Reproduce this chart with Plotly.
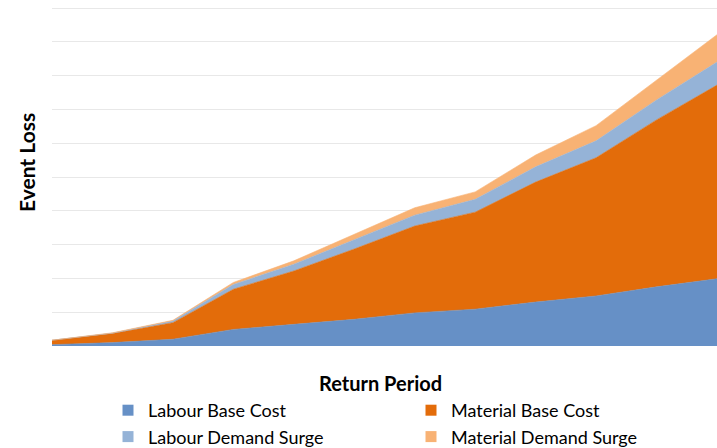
import plotly.graph_objects as go

return_periods = ["RP1", "RP2", "RP3", "RP4", "RP5", "RP6", "RP7", "RP8", "RP9", "RP10", "RP11", "RP12"]
labour_base = [0.04, 0.10, 0.20, 0.49, 0.64, 0.79, 0.98, 1.09, 1.30, 1.48, 1.75, 1.99]
material_base = [0.13, 0.27, 0.49, 1.19, 1.58, 2.08, 2.57, 2.87, 3.55, 4.09, 4.94, 5.73]
labour_surge = [0.00, 0.01, 0.05, 0.14, 0.20, 0.28, 0.32, 0.38, 0.45, 0.50, 0.59, 0.68]
material_surge = [0.00, 0.01, 0.02, 0.06, 0.10, 0.15, 0.22, 0.22, 0.35, 0.45, 0.59, 0.81]

series = [
    ("Labour Base Cost", labour_base, "#6690C6", "legend"),
    ("Material Base Cost", material_base, "#E36C0A", "legend2"),
    ("Labour Demand Surge", labour_surge, "#95B3D7", "legend"),
    ("Material Demand Surge", material_surge, "#F8B274", "legend2"),
]

W, H = 717, 448
l, r, t, b = 52, 0, 7, 102
pw, ph = W - l - r, H - t - b

def px_x(px):
    return (px - l) / pw

def px_y(py):
    return (H - b - py) / ph

xs = list(range(len(return_periods)))
fig = go.Figure()
for name, vals, col, lg in series:
    fig.add_trace(go.Scatter(
        x=xs, y=vals, name=name, mode="lines", stackgroup="one",
        line=dict(width=0.6, color=col), fillcolor=col, showlegend=False,
        hoverinfo="skip",
    ))
for name, vals, col, lg in series:
    fig.add_trace(go.Scatter(
        x=[None], y=[None], name=name, mode="markers", legend=lg,
        marker=dict(symbol="square", size=11, color=col, line=dict(width=0)),
    ))

leg_common = dict(orientation="v", yanchor="top", itemwidth=30,
                  font=dict(size=18, family="Lato, sans-serif", color="#000000"),
                  bgcolor="rgba(0,0,0,0)", tracegroupgap=0, traceorder="normal")

fig.update_layout(
    width=W, height=H,
    margin=dict(l=l, r=r, t=t, b=b, autoexpand=False),
    plot_bgcolor="white", paper_bgcolor="white",
    font=dict(family="Lato, sans-serif", size=16, color="#000000"),
    xaxis=dict(range=[0, len(xs) - 1], showticklabels=False, showgrid=False,
               zeroline=False, showline=False, ticks=""),
    yaxis=dict(range=[0, 10.03], dtick=1, showticklabels=False, showgrid=True,
               gridcolor="#E8E8E8", gridwidth=1, zeroline=False, showline=False, ticks=""),
    legend=dict(x=px_x(108), y=px_y(392), xanchor="left", **leg_common),
    legend2=dict(x=px_x(411), y=px_y(392), xanchor="left", **leg_common),
    annotations=[
        dict(text="<b>Return Period</b>", x=px_x(380), y=px_y(383), xref="paper", yref="paper",
             xanchor="center", yanchor="middle", showarrow=False, font=dict(size=20)),
        dict(text="<b>Event Loss</b>", x=px_x(26), y=px_y(163), xref="paper", yref="paper",
             xanchor="center", yanchor="middle", textangle=-90, showarrow=False,
             font=dict(size=21)),
    ],
)
fig.write_html(
    "out.html",
    config={"displayModeBar": False},
    post_script="document.body.style.margin='0';document.body.style.overflow='hidden';",
)
